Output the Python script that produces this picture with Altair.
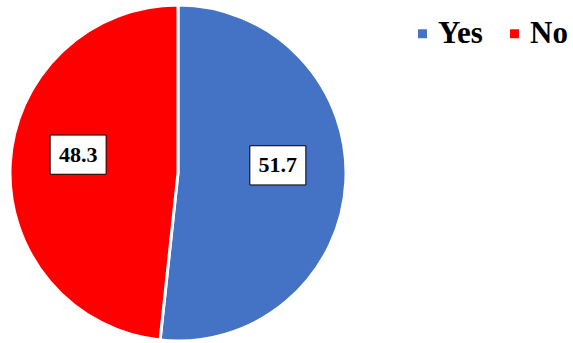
import altair as alt
import pandas as pd

categories = ["Yes", "No"]
values = [51.7, 48.3]
colors = ["#4472C4", "#FF0000"]
order = [0, 1]

df = pd.DataFrame({"answer": categories, "value": values, "order": order})

CX, CY, R = 178, 173, 168
LR = 100
SERIF = "Times New Roman"

base = alt.Chart(df)

pie = base.mark_arc(outerRadius=R, stroke="white", strokeWidth=3).encode(
    theta=alt.Theta("value:Q", stack=True),
    order=alt.Order("order:Q"),
    x=alt.value(CX),
    y=alt.value(CY),
    color=alt.Color(
        "answer:N",
        scale=alt.Scale(domain=categories, range=colors),
        sort=categories,
        legend=alt.Legend(
            title=None,
            orient="none",
            legendX=407,
            legendY=18,
            padding=0,
            direction="horizontal",
            symbolType="square",
            symbolSize=80,
            symbolStrokeWidth=0,
            labelFont=SERIF,
            labelFontWeight="bold",
            labelFontSize=31,
            labelColor="black",
            labelOffset=0,
            labelLimit=300,
            columnPadding=16,
        ),
    ),
)

pos = base.transform_joinaggregate(total="sum(value)").transform_window(
    cum="sum(value)", sort=[alt.SortField("order")], frame=[None, 0]
).transform_calculate(
    ang="(datum.cum - datum.value/2) / datum.total * 2 * PI",
).transform_calculate(
    px=f"{CX} + {LR} * sin(datum.ang)",
    py=f"{CY} - {LR} * cos(datum.ang) - 13",
    lbl="format(datum.value, '.1f')",
)

box = pos.mark_point(
    shape="M-1,-0.7L1,-0.7L1,0.7L-1,0.7Z",
    size=3136,
    filled=True,
    fill="white",
    stroke="black",
    strokeWidth=1,
    opacity=1,
).encode(
    x=alt.X("px:Q", scale=None),
    y=alt.Y("py:Q", scale=None),
)

txt = pos.mark_text(
    font=SERIF,
    fontWeight="bold",
    fontSize=22,
    color="black",
    baseline="middle",
    align="center",
).encode(
    x=alt.X("px:Q", scale=None),
    y=alt.Y("py:Q", scale=None),
    text="lbl:N",
)

chart = alt.layer(pie, box, txt).properties(
    width=573, height=343, padding=0, autosize=alt.AutoSizeParams(type="none")
).configure_view(stroke=None)

chart.save("out.html", embed_options={"renderer": "svg", "actions": False})
